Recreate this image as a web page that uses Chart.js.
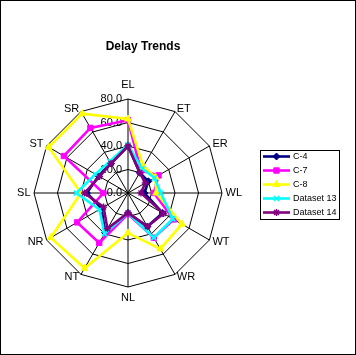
<!DOCTYPE html>
<html>
<head>
<meta charset="utf-8">
<script src="https://cdn.jsdelivr.net/npm/chart.js@4.4.1/dist/chart.umd.min.js"></script>
<style>
html,body{margin:0;padding:0;background:#fff;overflow:hidden}
#wrap{width:356px;height:355px;position:relative}
canvas{display:block}
</style>
</head>
<body>
<div id="wrap"><canvas id="c" width="356" height="355"></canvas></div>
<script>
// ---- data ----
const categories = ['EL','ET','ER','WL','WT','WR','NL','NT','NR','SL','ST','SR'];
const seriesNames = ['C-4','C-7','C-8','Dataset 13','Dataset 14'];
const c4Values        = [40, 20, 20, 14, 34, 33, 17, 39, 26, 35, 29, 29];
const c7Values        = [62, 22, 30, 22, 45, 44, 18, 49, 50, 21, 63, 64];
const c8Values        = [63, 26, 27, 24, 53, 55, 34, 74, 76, 40, 78, 78];
const dataset13Values = [41, 24, 26, 28, 44, 44, 17, 40, 28, 44, 32, 31];
const dataset14Values = [40, 20, 17, 11, 35, 33, 17, 35, 24, 37, 28, 29];
const tickValues = [0, 20, 40, 60, 80];
const titleText = 'Delay Trends';

// ---- styles ----
const FONT = 'Arial, "Liberation Sans", sans-serif';
const styles = [
  {color:'#000080', pointStyle:'rectRot',  radius:3.5, pbw:1},
  {color:'#FF00FF', pointStyle:'rect',     radius:3.8, pbw:1},
  {color:'#FFFF00', pointStyle:'triangle', radius:4,   pbw:1},
  {color:'#00FFFF', pointStyle:'crossRot', radius:3.5, pbw:1.6},
  {color:'#800080', pointStyle:'star',     radius:3.5, pbw:1.4}
];
const seriesValues = [c4Values, c7Values, c8Values, dataset13Values, dataset14Values];

const datasets = seriesNames.map((name, i) => ({
  label: name,
  data: seriesValues[i],
  borderColor: styles[i].color,
  backgroundColor: styles[i].color,
  borderWidth: 2.6,
  fill: false,
  tension: 0,
  pointStyle: styles[i].pointStyle,
  pointRadius: styles[i].radius,
  pointHoverRadius: styles[i].radius,
  pointBackgroundColor: styles[i].color,
  pointBorderColor: styles[i].color,
  pointBorderWidth: styles[i].pbw,
  order: seriesNames.length - 1 - i
}));

const framePlugin = {
  id: 'frame',
  beforeDraw(chart) {
    const ctx = chart.ctx;
    ctx.save();
    ctx.fillStyle = '#fff';
    ctx.fillRect(0, 0, chart.width, chart.height);
    ctx.strokeStyle = '#000';
    ctx.lineWidth = 1;
    ctx.strokeRect(0.5, 0.5, chart.width - 1, chart.height - 1);
    ctx.restore();
  }
};

const axisTextPlugin = {
  id: 'axisText',
  beforeDatasetsDraw(chart) {
    const s = chart.scales.r;
    const ctx = chart.ctx;
    ctx.save();
    ctx.fillStyle = '#000';
    ctx.font = '11px ' + FONT;
    ctx.textAlign = 'right';
    ctx.textBaseline = 'middle';
    tickValues.forEach(v => {
      const y = s.yCenter - s.getDistanceFromCenterForValue(v);
      ctx.fillText(v.toFixed(1), s.xCenter - 6, y);
    });
    // point (category) labels
    ctx.font = '11px ' + FONT;
    const n = categories.length;
    categories.forEach((lab, i) => {
      const deg = Math.round(i * 360 / n);
      let extra = 3.5;
      if (deg === 0) extra = 14;
      else if (deg === 180) extra = 11;
      const p = s.getPointPosition(i, s.drawingArea + extra);
      ctx.textAlign = (deg === 0 || deg === 180) ? 'center' : (deg < 180 ? 'left' : 'right');
      ctx.textBaseline = 'middle';
      ctx.fillText(lab, p.x, p.y);
    });
    ctx.restore();
  }
};

const boxLegendPlugin = {
  id: 'boxLegend',
  afterDraw(chart) {
    const ctx = chart.ctx;
    const x0 = 260, y0 = 150, w = 79, h = 69, rowH = 14;
    ctx.save();
    ctx.strokeStyle = '#000';
    ctx.lineWidth = 1;
    ctx.strokeRect(x0 + 0.5, y0 + 0.5, w, h);
    chart.data.datasets.forEach((ds, i) => {
      const y = y0 + 6.5 + i * rowH;
      ctx.strokeStyle = ds.borderColor;
      ctx.lineWidth = 2.6;
      ctx.beginPath();
      ctx.moveTo(x0 + 3, y);
      ctx.lineTo(x0 + 30, y);
      ctx.stroke();
      if (Chart.helpers && Chart.helpers.drawPoint) {
        ctx.fillStyle = ds.pointBackgroundColor;
        ctx.strokeStyle = ds.pointBorderColor;
        ctx.lineWidth = ds.pointBorderWidth;
        Chart.helpers.drawPoint(ctx, {pointStyle: ds.pointStyle, rotation: 0, radius: ds.pointRadius, borderWidth: ds.pointBorderWidth}, x0 + 16.5, y);
      }
      ctx.fillStyle = '#000';
      ctx.font = '9px ' + FONT;
      ctx.textAlign = 'left';
      ctx.textBaseline = 'middle';
      ctx.fillText(ds.label, x0 + 33, y + 0.5);
    });
    ctx.restore();
  }
};

new Chart(document.getElementById('c'), {
  type: 'radar',
  data: { labels: categories, datasets: datasets },
  options: {
    responsive: false,
    animation: false,
    devicePixelRatio: 1,
    layout: { padding: { left: 0, right: 70, top: 0, bottom: 0 } },
    plugins: {
      legend: { display: false },
      tooltip: { enabled: false },
      title: {
        display: true,
        text: titleText,
        color: '#000',
        font: { family: FONT, size: 12, weight: 'bold' },
        padding: { top: 39, bottom: 10 }
      }
    },
    elements: { line: { tension: 0 } },
    scales: {
      r: {
        min: 0,
        max: 80,
        startAngle: 0,
        ticks: { display: false, stepSize: 20 },
        pointLabels: { display: false },
        grid: { color: '#000', lineWidth: 1, circular: false },
        angleLines: { color: '#000', lineWidth: 1 },
        afterFit(scale) {
          scale.xCenter = 128;
          scale.yCenter = 193;
          scale.drawingArea = 94;
        }
      }
    }
  },
  plugins: [framePlugin, axisTextPlugin, boxLegendPlugin]
});
</script>
</body>
</html>
